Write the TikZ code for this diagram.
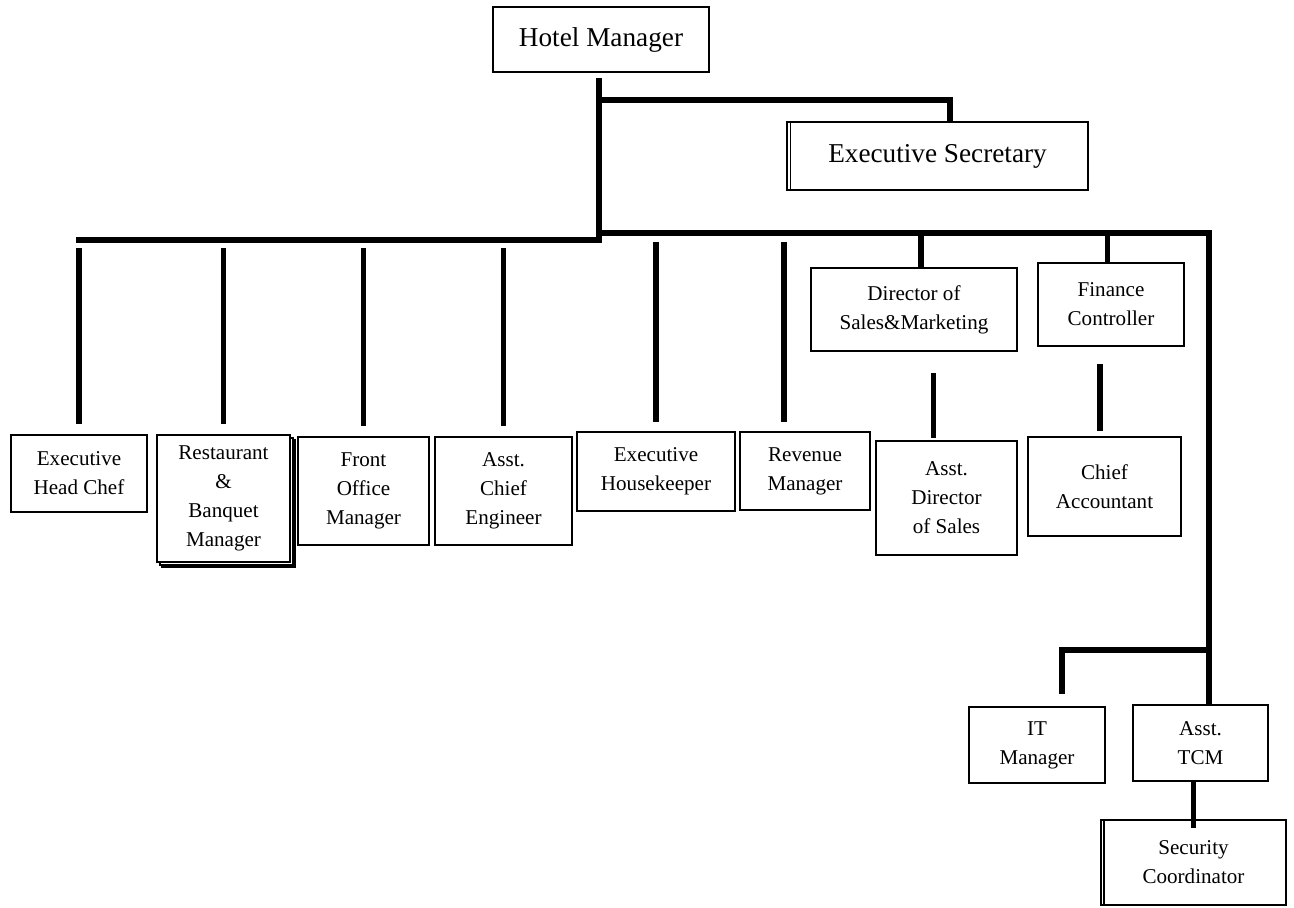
\documentclass[tikz,border=0pt]{standalone}
\usepackage{fontspec}
\setmainfont{Liberation Serif}
\usetikzlibrary{positioning, shadows}

\begin{document}
\begin{tikzpicture}[x=0.02cm, y=-0.02cm,
    post/.style={rectangle, draw=black, fill=white, line width=1pt, align=center, inner sep=0pt, font=\fontsize{12}{16.5}\selectfont},
    toppost/.style={post, font=\fontsize{15.5}{19}\selectfont},
    bar/.style={line width=3pt}
]
\useasboundingbox (0,0) rectangle (1294,907);

% ==== Top ====
\node[toppost, minimum width=4.32cm, minimum height=1.3cm] (hm) at (601,39.5) {Hotel Manager};
\node[toppost, minimum width=6.02cm, minimum height=1.36cm] (sec) at (937.5,156) {Executive Secretary};

% ==== Middle ====
\node[post, minimum width=4.12cm, minimum height=1.66cm] (dsm) at (914,309.5) {Director of\\Sales\&Marketing};
\node[post, minimum width=2.92cm, minimum height=1.66cm] (fin) at (1111,304.5) {Finance\\Controller};

% ==== Bottom row ====
\node[post, minimum width=2.72cm, minimum height=1.54cm] (chef) at (79,473.5) {Executive\\Head Chef};
\node[post, double copy shadow={shadow xshift=1.5pt, shadow yshift=-1.5pt}, minimum width=2.66cm, minimum height=2.54cm] (rbm) at (223.5,498.5) {Restaurant\\\&\\Banquet\\Manager};
\node[post, minimum width=2.62cm, minimum height=2.16cm] (fom) at (363.5,491) {Front\\Office\\Manager};
\node[post, minimum width=2.74cm, minimum height=2.16cm] (ace) at (503.5,491) {Asst.\\Chief\\Engineer};
\node[post, minimum width=3.16cm, minimum height=1.58cm] (ehk) at (656,471.5) {Executive\\Housekeeper};
\node[post, minimum width=2.6cm, minimum height=1.56cm] (rev) at (805,471) {Revenue\\Manager};
\node[post, minimum width=2.82cm, minimum height=2.28cm] (ads) at (946.5,498) {Asst.\\Director\\of Sales};
\node[post, minimum width=3.06cm, minimum height=1.98cm] (cac) at (1104.5,486.5) {Chief\\Accountant};

% ==== Lower right ====
\node[post, minimum width=2.72cm, minimum height=1.52cm] (it) at (1037,745) {IT\\Manager};
\node[post, minimum width=2.7cm, minimum height=1.52cm] (tcm) at (1200.5,743) {Asst.\\TCM};
\node[post, minimum width=3.7cm, minimum height=1.7cm] (secu) at (1193.5,862.5) {Security\\Coordinator};

% double left edges
\draw[line width=0.8pt] ([xshift=2.3pt]sec.north west) -- ([xshift=2.3pt]sec.south west);
\draw[line width=0.8pt] ([xshift=2.3pt]secu.north west) -- ([xshift=2.3pt]secu.south west);

% ==== Connectors ====
\coordinate (trunk) at (599,240);
\coordinate (secj) at (950,100);
\coordinate (busL) at (76,240);
\coordinate (busR) at (1209,233);
\coordinate (itj) at (1062,650);

\draw[bar, shorten <=3pt] (hm.south -| trunk) -- (trunk) -- (busL);
\draw[bar] (trunk |- secj) -- (secj) -- (sec.north -| secj);
\draw[bar] (trunk |- busR) -- (busR) -- (tcm.north -| busR);

\foreach \n in {chef, rbm, fom, ace}
    \draw[bar, shorten <=4.5pt, shorten >=5.5pt] (busL -| \n.north) -- (\n.north);
\draw[bar, shorten <=5pt, shorten >=5pt] (busR -| ehk.north) -- (ehk.north);
\draw[bar, shorten <=5pt, shorten >=5pt] ([xshift=-12pt]busR -| rev.north) -- ([xshift=-12pt]rev.north);
\draw[bar] ([xshift=4pt]busR -| dsm.north) -- ([xshift=4pt]dsm.north);
\draw[bar] ([xshift=-2pt]busR -| fin.north) -- ([xshift=-2pt]fin.north);

\draw[bar, shorten <=12pt, shorten >=1pt] ([xshift=-7.5pt]ads.north |- dsm.south) -- ([xshift=-7.5pt]ads.north);
\draw[bar, shorten <=10pt, shorten >=3pt] ([xshift=-2.5pt]cac.north |- fin.south) -- ([xshift=-2.5pt]cac.north);

\draw[bar, shorten >=7pt] (busR |- itj) -- (itj) -- (itj |- it.north);
\draw[bar, shorten >=-5pt] (tcm.south -| secu.north) -- (secu.north);

\end{tikzpicture}
\end{document}
